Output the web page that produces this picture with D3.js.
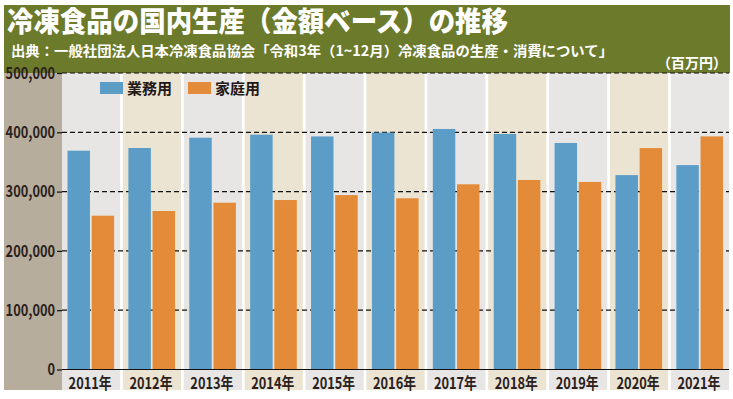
<!DOCTYPE html>
<html>
<head>
<meta charset="utf-8">
<script src="https://cdn.jsdelivr.net/npm/d3@7"></script>
<style>
  body { margin: 0; background: #fff; }
  svg { display: block; }
  text { font-family: "Noto Sans CJK JP", "Noto Sans", sans-serif; }
</style>
</head>
<body>
<svg id="chart"></svg>
<script>
const years = ['2011年', '2012年', '2013年', '2014年', '2015年', '2016年', '2017年', '2018年', '2019年', '2020年', '2021年'];
const seriesNames = ['業務用', '家庭用'];
const business = [369000, 373500, 390900, 396000, 393000, 399500, 405600, 397200, 382000, 327800, 344700];
const household = [259400, 267300, 281300, 285800, 294100, 288700, 312300, 319600, 316300, 373400, 393100];
const yTicks = [0, 100000, 200000, 300000, 400000, 500000];

const titleText = '冷凍食品の国内生産（金額ベース）の推移';
const sourceText = '出典：一般社団法人日本冷凍食品協会「令和3年（1~12月）冷凍食品の生産・消費について」';
const unitText = '（百万円）';

const colors = {'業務用': '#5c9dc8', '家庭用': '#e38b39'};
const olive = '#6c7a2c';
const taupe = '#b6ad9d';
const colBg = ['#e8e6e5', '#ece4d2'];

const W = 733, H = 399;
const plot = {left: 62, right: 729, top: 73, bottom: 369.5, labelBottom: 390};

const svg = d3.select('#chart').attr('width', W).attr('height', H);

// header band
svg.append('rect')
    .attr('x', 4).attr('y', 5)
    .attr('width', 726).attr('height', plot.top - 5)
    .attr('fill', olive);

// left panel behind the y labels
svg.append('rect')
    .attr('x', 4).attr('y', plot.top)
    .attr('width', plot.left - 4).attr('height', plot.labelBottom - plot.top)
    .attr('fill', taupe);

svg.append('text')
    .attr('x', 7).attr('y', 31.5)
    .attr('fill', '#fff')
    .attr('font-size', 28)
    .attr('font-weight', 900)
    .attr('textLength', 501)
    .attr('lengthAdjust', 'spacingAndGlyphs')
    .text(titleText);

svg.append('text')
    .attr('x', 11).attr('y', 55.5)
    .attr('fill', '#fff')
    .attr('font-size', 14)
    .attr('font-weight', 700)
    .attr('textLength', 602)
    .attr('lengthAdjust', 'spacingAndGlyphs')
    .text(sourceText);

svg.append('text')
    .attr('x', 727).attr('y', 68)
    .attr('text-anchor', 'end')
    .attr('fill', '#fff')
    .attr('font-size', 14)
    .attr('font-weight', 700)
    .text(unitText);

const x = d3.scaleBand()
    .domain(years)
    .range([plot.left, plot.right])
    .paddingInner(0.045)
    .paddingOuter(0);

const xs = d3.scaleBand()
    .domain(seriesNames)
    .range([5.5, x.bandwidth() - 6])
    .paddingInner(0.07);

const y = d3.scaleLinear()
    .domain([0, 500000])
    .range([plot.bottom, plot.top]);

// alternating column backgrounds
svg.append('g')
    .selectAll('rect')
    .data(years)
    .enter().append('rect')
    .attr('x', d => x(d))
    .attr('y', plot.top)
    .attr('width', x.bandwidth())
    .attr('height', plot.labelBottom - plot.top)
    .attr('fill', (d, i) => colBg[i % 2]);

// dashed grid
svg.append('g')
    .selectAll('line')
    .data(yTicks.filter(d => d > 0))
    .enter().append('line')
    .attr('x1', plot.left).attr('x2', plot.right)
    .attr('y1', d => y(d)).attr('y2', d => y(d))
    .attr('stroke', '#111')
    .attr('stroke-width', 1.2)
    .attr('stroke-dasharray', '5,3');

// bars
const rows = years.map((yr, i) => ({year: yr, values: [
  {key: '業務用', value: business[i]},
  {key: '家庭用', value: household[i]},
]}));

const groups = svg.append('g')
    .selectAll('g')
    .data(rows)
    .enter().append('g')
    .attr('transform', d => `translate(${x(d.year)},0)`);

groups.selectAll('rect')
    .data(d => d.values)
    .enter().append('rect')
    .attr('x', d => xs(d.key))
    .attr('y', d => y(d.value))
    .attr('width', xs.bandwidth())
    .attr('height', d => y(0) - y(d.value))
    .attr('fill', d => colors[d.key]);

// zero line
svg.append('line')
    .attr('x1', plot.left).attr('x2', plot.right)
    .attr('y1', y(0)).attr('y2', y(0))
    .attr('stroke', '#111')
    .attr('stroke-width', 1.2);

// y axis
const yAxis = svg.append('g')
    .attr('transform', `translate(${plot.left},0)`)
    .call(d3.axisLeft(y).tickValues(yTicks).tickSize(5).tickPadding(4).tickFormat(d3.format(',')));
yAxis.select('.domain').remove();
yAxis.selectAll('.tick line').attr('stroke', '#111').attr('stroke-width', 1.2);
yAxis.selectAll('.tick text')
    .attr('font-family', '"Liberation Sans", Arial, sans-serif')
    .attr('font-size', 16)
    .attr('font-weight', 700)
    .attr('fill', '#2a211c')
    .attr('x', -7 / 0.8)
    .attr('transform', 'scale(0.8,1)');

// x labels
svg.append('g')
    .selectAll('text')
    .data(years)
    .enter().append('text')
    .attr('transform', d => `translate(${x(d) + x.bandwidth() / 2 - 1},${plot.bottom + 19}) scale(0.8,1)`)
    .attr('text-anchor', 'middle')
    .attr('font-size', 16)
    .attr('font-weight', 700)
    .attr('fill', '#2a211c')
    .text(d => d);

// legend
const legend = svg.append('g')
    .selectAll('g')
    .data(seriesNames)
    .enter().append('g')
    .attr('transform', (d, i) => `translate(${100 + i * 88},82)`);
legend.append('rect')
    .attr('width', 23).attr('height', 12)
    .attr('fill', d => colors[d]);
legend.append('text')
    .attr('x', 27).attr('y', 11.5)
    .attr('font-size', 15)
    .attr('font-weight', 700)
    .attr('fill', '#231815')
    .text(d => d);
</script>
</body>
</html>
